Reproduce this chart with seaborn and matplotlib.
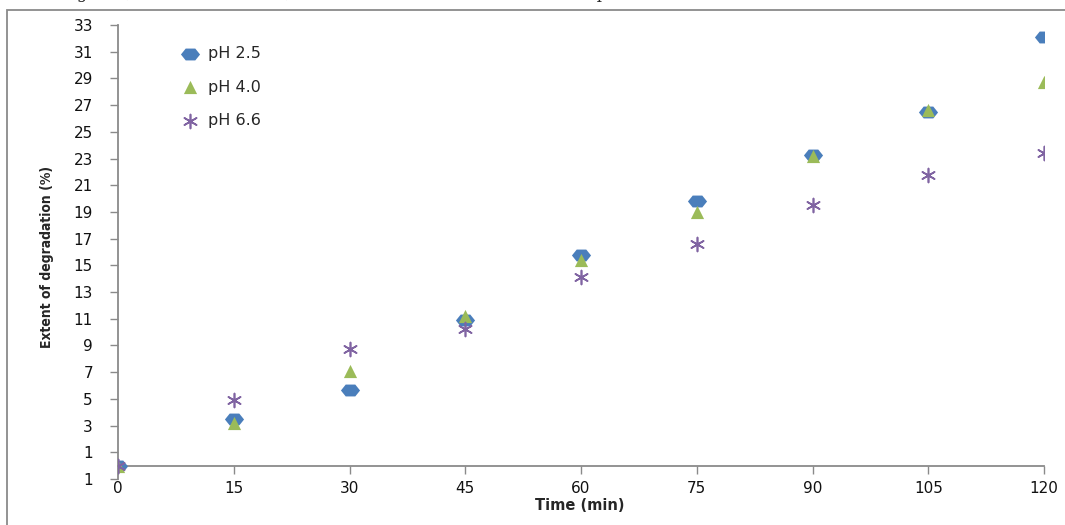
import matplotlib
matplotlib.use("Agg")
import matplotlib.pyplot as plt
import pandas as pd
import seaborn as sns
from matplotlib.patches import Rectangle
from matplotlib.path import Path

time_min = [0, 15, 30, 45, 60, 75, 90, 105, 120]
ph_25 = [0.0, 3.5, 5.7, 10.9, 15.8, 19.8, 23.3, 26.5, 32.1]
ph_40 = [0.0, 3.2, 7.1, 11.2, 15.4, 19.0, 23.2, 26.6, 28.7]
ph_66 = [0.0, 4.9, 8.7, 10.2, 14.1, 16.6, 19.5, 21.8, 23.4]
series_labels = ["pH 2.5", "pH 4.0", "pH 6.6"]
y_ticks = list(range(-1, 34, 2))
x_ticks = [0, 15, 30, 45, 60, 75, 90, 105, 120]

# flattened blob like the Excel diamond
blob = Path([(-1, 0), (-0.5, 0.62), (0.5, 0.62), (1, 0), (0.5, -0.62), (-0.5, -0.62), (-1, 0)],
            [Path.MOVETO] + [Path.LINETO] * 5 + [Path.CLOSEPOLY])

COLORS = ["#4A7EBB", "#9BBB59", "#8064A2"]
MARKERS = [blob, "^", (6, 2, 0)]
SIZES = [190, 90, 100]

df = pd.concat(
    [pd.DataFrame({"time": time_min, "extent": vals, "series": lab})
     for vals, lab in zip([ph_25, ph_40, ph_66], series_labels)],
    ignore_index=True,
)

sns.set_theme(style="white")
plt.rcParams["font.family"] = ["DejaVu Sans"]

fig = plt.figure(figsize=(10.65, 5.25), dpi=100)
ax = fig.add_axes([118 / 1065, 1 - 479 / 525, 926 / 1065, 454 / 525])

for (lab, g), color, marker, size in zip(df.groupby("series", sort=False), COLORS, MARKERS, SIZES):
    kw = dict(s=size, color=color, marker=marker, label=lab, ax=ax, zorder=3)
    if isinstance(marker, tuple):
        kw.update(linewidth=1.2)
    else:
        kw.update(edgecolor=color, linewidth=0)
    sns.scatterplot(data=g, x="time", y="extent", **kw)

ax.set_xlim(0, 120)
ax.set_ylim(-1, 33)
ax.set_yticks(y_ticks)
ax.set_xticks(x_ticks)
ax.set_yticklabels([str(abs(t)) if t < 0 else str(t) for t in y_ticks])
ax.set_xticklabels([str(t) for t in x_ticks])

for side in ["top", "right"]:
    ax.spines[side].set_visible(False)
ax.spines["bottom"].set_position(("data", 0))
for side in ["left", "bottom"]:
    ax.spines[side].set_color("#8a8a8a")
    ax.spines[side].set_linewidth(1.3)
ax.tick_params(axis="both", direction="out", length=6, width=1, color="#8a8a8a",
               labelsize=11, labelcolor="#111111", left=True, bottom=True)
ax.tick_params(axis="x", pad=5)
ax.tick_params(axis="y", pad=12)

ax.set_xlabel("")
ax.set_ylabel("")
fig.text(580 / 1065, 1 - 505 / 525, "Time (min)", ha="center", va="center",
         fontsize=10.5, fontweight="bold")
fig.text(47 / 1065, 1 - 257 / 525, "Extent of degradation (%)", ha="center", va="center",
         rotation=90, fontsize=10, fontweight="bold", fontstretch="condensed")

leg = ax.legend(loc="upper left", bbox_to_anchor=(0.045, 0.985), frameon=False,
                fontsize=11.5, labelspacing=1.15, handletextpad=0.15, markerscale=1.0)

# outer frame and the clipped line of page text above it
fig.patches.append(Rectangle((7 / 1065, -0.1), 1.2, 1 - 10 / 525 + 0.1, transform=fig.transFigure,
                             fill=False, edgecolor="#8a8a8a", linewidth=1.3))
fig.text(0.0, 1.012, "d the range [9], reaction rate [14], and the use of [15] indicated at the pH",
         ha="left", va="center", fontsize=12, family="serif")

fig.savefig("out.png", dpi=100)
